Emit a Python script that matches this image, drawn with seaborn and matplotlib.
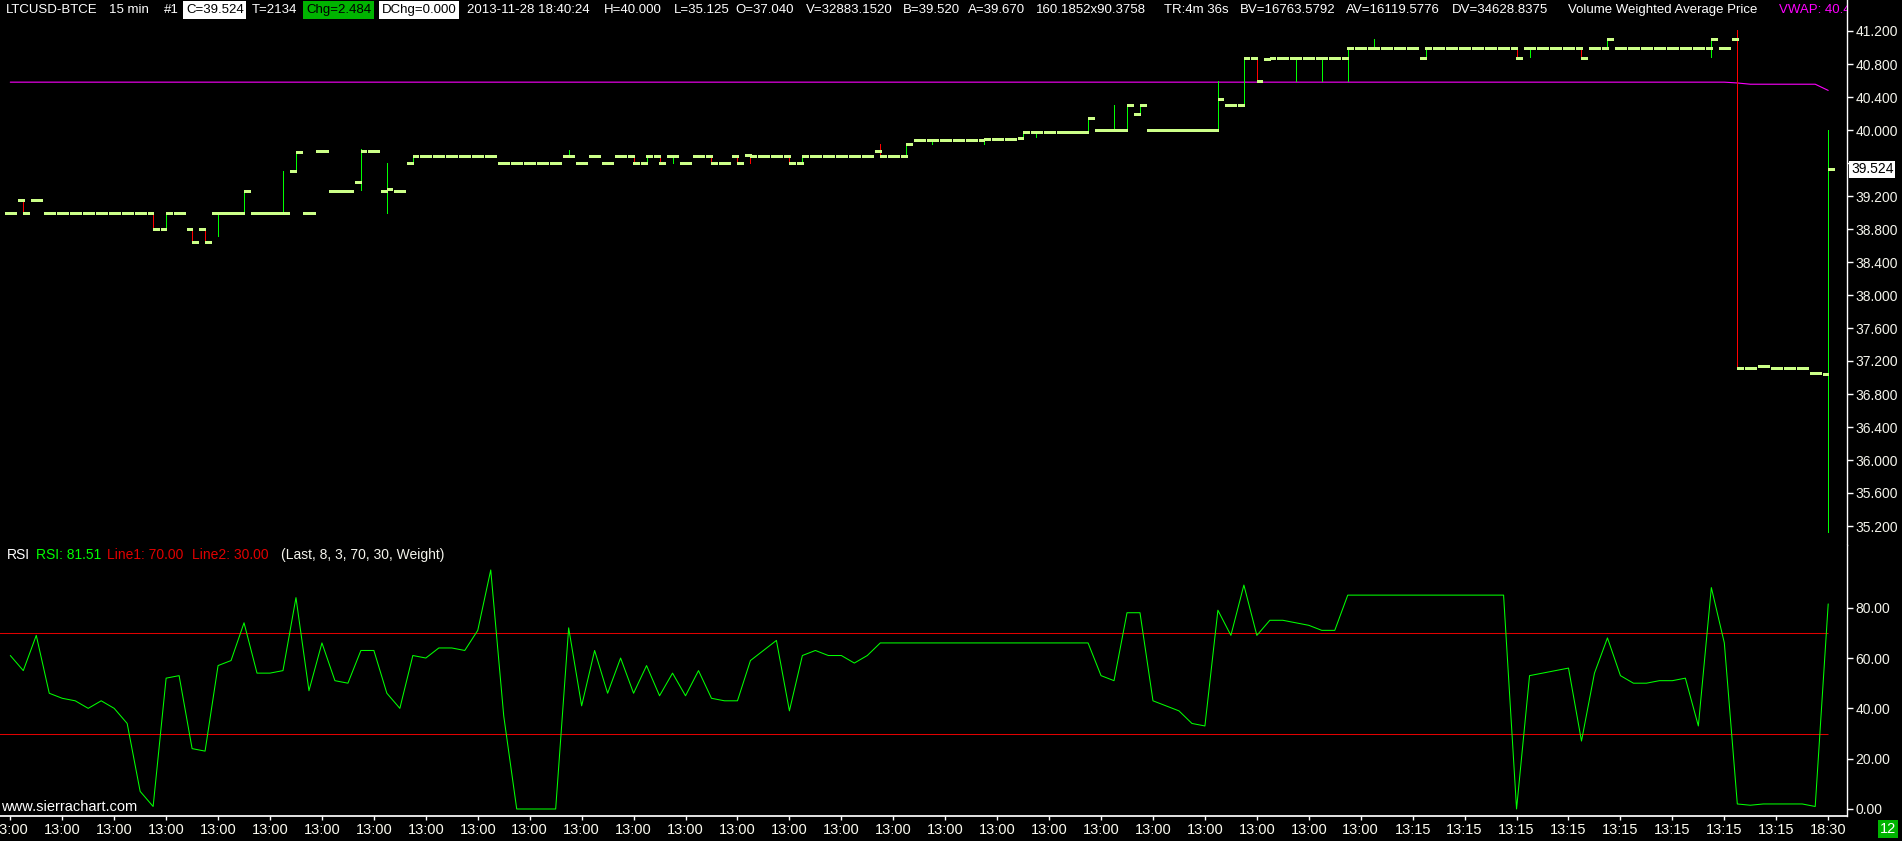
import numpy as np
import matplotlib
matplotlib.use("Agg")
import matplotlib.pyplot as plt
import matplotlib.transforms as mtrans
import seaborn as sns

# ---- data (15 min bars, LTCUSD-BTCE) ----
opens = [39.00, 39.15, 39.15, 39.00, 39.00, 39.00, 39.00, 39.00, 39.00, 39.00,
         39.00, 39.00, 38.80, 39.00, 38.80, 38.80, 39.00, 39.00, 39.00, 39.00,
         39.00, 39.00, 39.50, 39.00, 39.74, 39.26, 39.26, 39.37, 39.74, 39.26,
         39.26, 39.60, 39.69, 39.69, 39.69, 39.69, 39.69, 39.69, 39.60, 39.60,
         39.60, 39.60, 39.60, 39.69, 39.60, 39.69, 39.60, 39.69, 39.69, 39.60,
         39.69, 39.69, 39.60, 39.69, 39.69, 39.60, 39.69, 39.70, 39.69, 39.69,
         39.69, 39.60, 39.69, 39.69, 39.69, 39.69, 39.69, 39.75, 39.69, 39.69,
         39.88, 39.88, 39.88, 39.88, 39.88, 39.88, 39.89, 39.89, 39.90, 39.98,
         39.98, 39.98, 39.98, 39.98, 40.00, 40.00, 40.00, 40.20, 40.00, 40.00,
         40.00, 40.00, 40.00, 40.00, 40.30, 40.30, 40.87, 40.86, 40.87, 40.87,
         40.87, 40.87, 40.87, 40.87, 41.00, 41.00, 41.00, 41.00, 41.00, 40.87,
         41.00, 41.00, 41.00, 41.00, 41.00, 41.00, 41.00, 41.00, 41.00, 41.00,
         41.00, 41.00, 41.00, 41.00, 41.00, 41.00, 41.00, 41.00, 41.00, 41.00,
         41.00, 41.00, 41.00, 41.10, 37.12, 37.14, 37.12, 37.11, 37.11, 37.05,
         37.04]
highs = [39.00, 39.15, 39.15, 39.00, 39.00, 39.00, 39.00, 39.00, 39.00, 39.00,
         39.00, 39.00, 39.00, 39.00, 38.80, 38.80, 39.00, 39.00, 39.26, 39.00,
         39.00, 39.50, 39.73, 39.00, 39.74, 39.26, 39.26, 39.77, 39.74, 39.60,
         39.26, 39.69, 39.69, 39.69, 39.69, 39.69, 39.69, 39.69, 39.60, 39.60,
         39.60, 39.60, 39.60, 39.76, 39.60, 39.69, 39.60, 39.69, 39.69, 39.69,
         39.69, 39.69, 39.60, 39.69, 39.69, 39.60, 39.69, 39.70, 39.69, 39.69,
         39.69, 39.69, 39.69, 39.69, 39.69, 39.69, 39.69, 39.83, 39.69, 39.83,
         39.88, 39.88, 39.88, 39.88, 39.88, 39.89, 39.89, 39.89, 39.98, 39.98,
         39.98, 39.98, 39.98, 40.14, 40.00, 40.30, 40.30, 40.30, 40.00, 40.00,
         40.00, 40.00, 40.00, 40.59, 40.30, 40.87, 40.87, 40.87, 40.87, 40.87,
         40.87, 40.87, 40.87, 41.00, 41.00, 41.10, 41.00, 41.00, 41.00, 41.00,
         41.00, 41.00, 41.00, 41.00, 41.00, 41.00, 41.00, 41.00, 41.00, 41.00,
         41.00, 41.00, 41.00, 41.10, 41.00, 41.00, 41.00, 41.00, 41.00, 41.00,
         41.00, 41.10, 41.00, 41.21, 37.12, 37.14, 37.12, 37.11, 37.11, 37.05,
         40.00]
lows = [39.00, 39.00, 39.15, 39.00, 39.00, 39.00, 39.00, 39.00, 39.00, 39.00,
        39.00, 38.80, 38.80, 39.00, 38.64, 38.64, 38.71, 39.00, 39.00, 39.00,
        39.00, 39.00, 39.50, 39.00, 39.74, 39.26, 39.26, 39.27, 39.74, 39.00,
        39.26, 39.60, 39.69, 39.69, 39.69, 39.69, 39.69, 39.69, 39.60, 39.60,
        39.60, 39.60, 39.60, 39.69, 39.60, 39.69, 39.60, 39.69, 39.60, 39.60,
        39.60, 39.60, 39.60, 39.69, 39.60, 39.60, 39.60, 39.60, 39.69, 39.69,
        39.60, 39.60, 39.69, 39.69, 39.69, 39.69, 39.69, 39.69, 39.69, 39.69,
        39.88, 39.83, 39.88, 39.88, 39.88, 39.83, 39.89, 39.89, 39.90, 39.91,
        39.98, 39.98, 39.98, 39.98, 40.00, 40.00, 40.00, 40.20, 40.00, 40.00,
        40.00, 40.00, 40.00, 40.00, 40.30, 40.30, 40.59, 40.86, 40.87, 40.59,
        40.87, 40.59, 40.87, 40.59, 41.00, 41.00, 41.00, 41.00, 41.00, 40.87,
        41.00, 41.00, 41.00, 41.00, 41.00, 41.00, 40.87, 40.88, 41.00, 41.00,
        41.00, 40.87, 41.00, 41.00, 41.00, 41.00, 41.00, 41.00, 41.00, 41.00,
        41.00, 40.88, 41.00, 37.10, 37.12, 37.14, 37.12, 37.11, 37.11, 37.05,
        35.125]
closes = [39.00, 39.00, 39.15, 39.00, 39.00, 39.00, 39.00, 39.00, 39.00, 39.00,
          39.00, 38.80, 39.00, 39.00, 38.64, 38.64, 39.00, 39.00, 39.26, 39.00,
          39.00, 39.00, 39.73, 39.00, 39.74, 39.26, 39.26, 39.75, 39.74, 39.29,
          39.26, 39.69, 39.69, 39.69, 39.69, 39.69, 39.69, 39.69, 39.60, 39.60,
          39.60, 39.60, 39.60, 39.69, 39.60, 39.69, 39.60, 39.69, 39.60, 39.69,
          39.60, 39.69, 39.60, 39.69, 39.60, 39.60, 39.60, 39.69, 39.69, 39.69,
          39.60, 39.69, 39.69, 39.69, 39.69, 39.69, 39.69, 39.69, 39.69, 39.83,
          39.88, 39.88, 39.88, 39.88, 39.88, 39.89, 39.89, 39.89, 39.98, 39.98,
          39.98, 39.98, 39.98, 40.14, 40.00, 40.00, 40.30, 40.30, 40.00, 40.00,
          40.00, 40.00, 40.00, 40.37, 40.30, 40.87, 40.59, 40.87, 40.87, 40.87,
          40.87, 40.87, 40.87, 41.00, 41.00, 41.00, 41.00, 41.00, 41.00, 41.00,
          41.00, 41.00, 41.00, 41.00, 41.00, 41.00, 40.87, 41.00, 41.00, 41.00,
          41.00, 40.87, 41.00, 41.10, 41.00, 41.00, 41.00, 41.00, 41.00, 41.00,
          41.00, 41.10, 41.00, 37.12, 37.12, 37.14, 37.12, 37.11, 37.11, 37.05,
          39.524]
vwap = [40.58] * 133 + [40.57] + [40.555] * 6 + [40.48]
rsi = [61, 55, 69, 46, 44, 43, 40, 43, 40, 34,
       7, 1, 52, 53, 24, 23, 57, 59, 74, 54,
       54, 55, 84, 47, 66, 51, 50, 63, 63, 46,
       40, 61, 60, 64, 64, 63, 71, 95, 37, 0,
       0, 0, 0, 72, 41, 63, 46, 60, 46, 57,
       45, 54, 45, 55, 44, 43, 43, 59, 63, 67,
       39, 61, 63, 61, 61, 58, 61, 66, 66, 66,
       66, 66, 66, 66, 66, 66, 66, 66, 66, 66,
       66, 66, 66, 66, 53, 51, 78, 78, 43, 41,
       39, 34, 33, 79, 69, 89, 69, 75, 75, 74,
       73, 71, 71, 85, 85, 85, 85, 85, 85, 85,
       85, 85, 85, 85, 85, 85, 0, 53, 54, 55,
       56, 27, 54, 68, 53, 50, 50, 51, 51, 52,
       33, 88, 66, 2, 1.5, 2, 2, 2, 2, 1,
       81.51]
time_labels = ["13:00"] * 27 + ["13:15"] * 8 + ["18:30"]
price_ticks = [35.2, 35.6, 36.0, 36.4, 36.8, 37.2, 37.6, 38.0, 38.4, 38.8,
               39.2, 39.6, 40.0, 40.4, 40.8, 41.2]
rsi_ticks = [0, 20, 40, 60, 80]
last_price = 39.524

# ---- look ----
sns.set_theme(style="dark")
plt.rcParams['font.family'] = ['Liberation Sans', 'DejaVu Sans']
plt.rcParams['savefig.facecolor'] = 'black'

W, H = 1902, 841
fig = plt.figure(figsize=(W / 100, H / 100), dpi=100, facecolor='black')

def px_box(l, t, r, b):
    return [l / W, 1 - b / H, (r - l) / W, (b - t) / H]

ax_p = fig.add_axes(px_box(0, 0, 1847, 545))
ax_r = fig.add_axes(px_box(0, 545, 1847, 816), sharex=ax_p)

n = len(closes)
x = np.arange(n)
o = np.array(opens); c = np.array(closes)
wick_col = np.where(c < o, '#ff0000', '#00ff00')
tick_col = '#ccff88'

# price bars: high-low line, open tick left, close tick right
ax_p.vlines(x, lows, highs, colors=wick_col, linewidth=0.72, antialiased=False, zorder=2)
ax_p.hlines(opens, x - 0.43, x + 0.02, colors=tick_col, linewidth=2.0,
            capstyle='butt', antialiased=False, zorder=3)
ax_p.hlines(closes, x - 0.02, x + 0.43, colors=tick_col, linewidth=2.0,
            capstyle='butt', antialiased=False, zorder=3)
sns.lineplot(x=x, y=vwap, ax=ax_p, color='#ff00ff', linewidth=0.8, zorder=1)

sns.lineplot(x=x, y=rsi, ax=ax_r, color='#00ff00', linewidth=0.75)
ax_r.hlines([70, 30], -1, n - 1, colors='#e00000', linewidth=0.75, zorder=1)

ax_p.set_xlim(-10.3 / 12.985, (1847 - 10.3) / 12.985)
ax_p.set_ylim(41.2 - (545 - 31) / 82.5, 41.2 + 31 / 82.5)
ax_r.set_ylim(-(816 - 809) / 2.516, 80 + (607.7 - 545) / 2.516)

for ax in (ax_p, ax_r):
    ax.set_facecolor('black')
    ax.grid(False)
    for s in ('top', 'left', 'bottom'):
        ax.spines[s].set_visible(False)
    ax.spines['right'].set_color('white')
    ax.spines['right'].set_linewidth(1)
    ax.yaxis.tick_right()
    ax.tick_params(axis='y', colors='white', labelcolor='#f4f4ec', length=4, width=1,
                   pad=2, labelsize=10, direction='out')
    ax.set_xlabel('')
    ax.set_ylabel('')

ax_p.set_yticks(price_ticks)
# 39.600 sits under the last-price box, so its label is hidden
ax_p.set_yticklabels(["" if abs(v - 39.6) < 1e-6 else f"{v:.3f}" for v in price_ticks])
ax_p.tick_params(axis='x', bottom=False, labelbottom=False)

ax_r.set_yticks(rsi_ticks)
ax_r.set_yticklabels([f"{v:.2f}" for v in rsi_ticks])
ax_r.spines['bottom'].set_visible(True)
ax_r.spines['bottom'].set_color('white')
ax_r.set_xticks(x[::4])
ax_r.set_xticklabels(time_labels)
ax_r.tick_params(axis='x', colors='white', labelcolor='#fbfbf0', length=3, width=1,
                 pad=2, labelsize=10.5, bottom=True, labelbottom=True)

# last price marker on the scale
ax_p.text(1.0022, last_price, f"{last_price:.3f}",
          transform=mtrans.blended_transform_factory(ax_p.transAxes, ax_p.transData),
          ha='left', va='center', color='black', fontsize=10,
          bbox=dict(boxstyle='square,pad=0.12', fc='white', ec='none'), clip_on=False, zorder=5)

# header line (clipped at the price scale)
def ptxt(ax, px, py, s, color='white', bg=None, axh=545):
    t = ax.text(px / 1847, 1 - py / axh, s, transform=ax.transAxes, ha='left', va='center',
                color=color, fontsize=9.5, clip_on=True)
    if bg:
        t.set_bbox(dict(boxstyle='square,pad=0.2', fc=bg, ec='none'))
    return t

header = [(6, "LTCUSD-BTCE", 'white', None), (109, "15 min", 'white', None), (164, "#1", 'white', None),
          (186, "C=39.524", 'black', 'white'), (252, "T=2134", 'white', None),
          (306, "Chg=2.484", 'black', '#00b400'), (382, "DChg=0.000", 'black', 'white'),
          (467, "2013-11-28 18:40:24", 'white', None), (604, "H=40.000", 'white', None),
          (674, "L=35.125", 'white', None), (735, "O=37.040", 'white', None),
          (806, "V=32883.1520", 'white', None), (903, "B=39.520", 'white', None),
          (968, "A=39.670", 'white', None), (1036, "160.1852x90.3758", 'white', None),
          (1164, "TR:4m 36s", 'white', None), (1240, "BV=16763.5792", 'white', None),
          (1346, "AV=16119.5776", 'white', None), (1452, "DV=34628.8375", 'white', None),
          (1568, "Volume Weighted Average Price", 'white', None), (1779, "VWAP: 40.480", '#ff00ff', None)]
for px, s, col, bg in header:
    ptxt(ax_p, px, 10, s, col, bg)

# RSI study label
rsi_lab = [(7, "RSI", 'white'), (36, "RSI: 81.51", '#00ff00'), (107, "Line1: 70.00", '#e00000'),
           (192, "Line2: 30.00", '#e00000'), (281, "(Last, 8, 3, 70, 30, Weight)", '#f4f4ec')]
for px, s, col in rsi_lab:
    ax_r.text(px / 1847, 1 - (555 - 545) / 271, s, transform=ax_r.transAxes, ha='left', va='center',
              color=col, fontsize=10)

ax_r.text(1 / 1847, 1 - (807 - 545) / 271, "www.sierrachart.com", transform=ax_r.transAxes,
          ha='left', va='center', color='white', fontsize=10.5)

fig.text(1888 / W, 1 - 829 / H, "12", ha='center', va='center', color='white', fontsize=10.5,
         bbox=dict(boxstyle='square,pad=0.15', fc='#00b400', ec='none'))

fig.savefig("out.png", dpi=100, facecolor='black')
